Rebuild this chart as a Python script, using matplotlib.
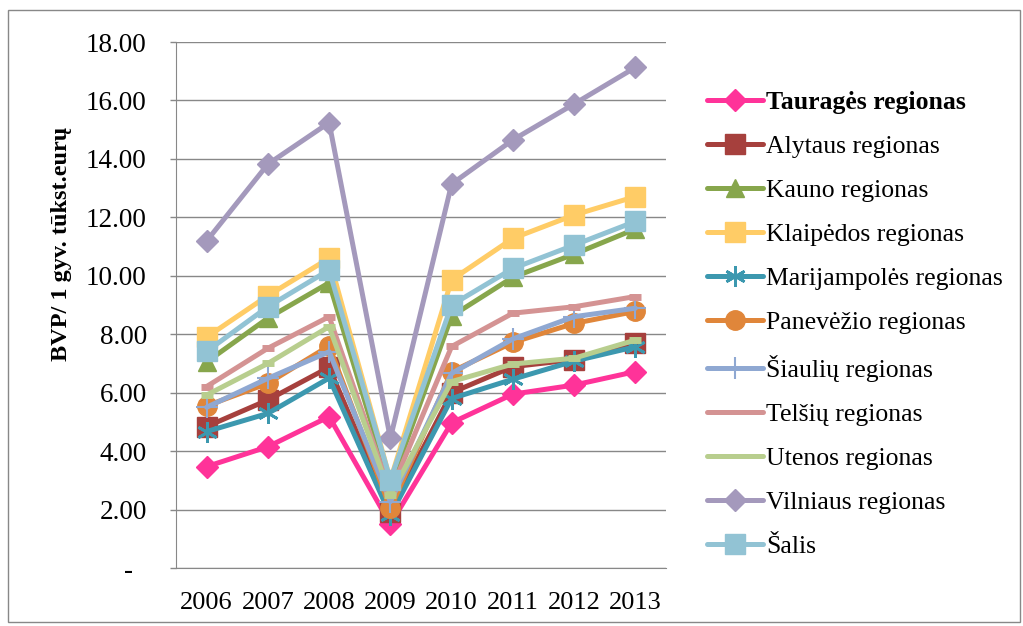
import matplotlib.pyplot as plt
from matplotlib.patches import Rectangle

years = ['2006', '2007', '2008', '2009', '2010', '2011', '2012', '2013']

taurages = [3.47, 4.15, 5.18, 1.50, 4.97, 5.95, 6.26, 6.72]
alytaus = [4.84, 5.75, 6.87, 1.93, 6.00, 6.89, 7.13, 7.69]
kauno = [7.05, 8.55, 9.76, 2.80, 8.62, 9.95, 10.74, 11.60]
klaipedos = [7.90, 9.32, 10.60, 3.00, 9.86, 11.28, 12.08, 12.71]
marijampoles = [4.67, 5.29, 6.50, 1.80, 5.80, 6.46, 7.08, 7.57]
panevezio = [5.55, 6.32, 7.60, 2.04, 6.72, 7.72, 8.37, 8.78]
siauliu = [5.50, 6.49, 7.40, 2.27, 6.66, 7.84, 8.60, 8.89]
telsiu = [6.21, 7.52, 8.60, 2.60, 7.58, 8.72, 8.94, 9.29]
utenos = [5.92, 7.00, 8.26, 2.50, 6.38, 6.98, 7.18, 7.80]
vilniaus = [11.19, 13.82, 15.24, 4.44, 13.14, 14.65, 15.88, 17.13]
salis = [7.41, 8.94, 10.20, 3.01, 9.00, 10.25, 11.05, 11.86]

series = [
    ('Tauragės regionas', taurages, '#FF3399', 'D'),
    ('Alytaus regionas', alytaus, '#A6403D', 's'),
    ('Kauno regionas', kauno, '#87A64C', '^'),
    ('Klaipėdos regionas', klaipedos, '#FFCC66', 's'),
    ('Marijampolės regionas', marijampoles, '#3C98AF', 'ast'),
    ('Panevėžio regionas', panevezio, '#E0863A', 'o'),
    ('Šiaulių regionas', siauliu, '#8FA8D2', '+'),
    ('Telšių regionas', telsiu, '#D49393', '_'),
    ('Utenos regionas', utenos, '#B8CE8E', '_'),
    ('Vilniaus regionas', vilniaus, '#A499BC', 'D'),
    ('Šalis', salis, '#92C3D4', 's'),
]

plt.rcParams['font.family'] = ['Liberation Serif', 'DejaVu Serif']

fig = plt.figure(figsize=(10.23, 6.26), dpi=100)
ax = fig.add_axes([176 / 1023, 1 - 568 / 626, 490 / 1023, 526 / 626])

x = list(range(len(years)))
for name, vals, col, mk in series:
    kw = dict(color=col, lw=3.6, label=name, solid_capstyle='round')
    if mk == 'D':
        kw.update(marker='D', ms=11, mec=col, mfc=col)
    elif mk == 's':
        kw.update(marker='s', ms=14, mec=col, mfc=col)
    elif mk == '^':
        kw.update(marker='^', ms=13, mec=col, mfc=col)
    elif mk == 'o':
        kw.update(marker='o', ms=14, mec=col, mfc=col)
    elif mk == 'ast':
        kw.update(marker=(6, 2, 0), ms=15, mec=col, mew=2)
    elif mk == '+':
        kw.update(marker='+', ms=16, mec=col, mew=1.5)
    elif mk == '_':
        kw.update(marker='_', ms=9, mec=col, mew=5)
    ax.plot(x, vals, **kw)

ax.set_xlim(-0.5, 7.5)
ax.set_ylim(0, 18)
ax.set_xticks(x)
ax.set_xticklabels(years, fontsize=19)
yt = [0, 2, 4, 6, 8, 10, 12, 14, 16, 18]
ax.set_yticks(yt)
ax.set_yticklabels(['-  '] + ['%.2f' % v for v in yt[1:]], fontsize=19.5)
ax.tick_params(axis='x', length=0, pad=17)
ax.tick_params(axis='y', length=4, width=1, color='#888888', pad=17)
ax.grid(axis='y', color='#888888', lw=1)
ax.set_axisbelow(True)
for s in ['top', 'right']:
    ax.spines[s].set_visible(False)
for s in ['left', 'bottom']:
    ax.spines[s].set_color('#888888')
ax.set_ylabel('BVP/ 1 gyv. tūkst.eurų', fontsize=17.5, fontweight='bold')
ax.yaxis.set_label_coords((72 - 176) / 490, (568 - 244) / 526)

leg = fig.legend(loc='upper left', bbox_to_anchor=(694 / 1023, 1 - 78 / 626),
                 frameon=False, fontsize=18.5, handlelength=2.2, handletextpad=0.1,
                 labelspacing=0.82, borderpad=0)
leg.get_texts()[0].set_fontweight('bold')
for h in leg.legend_handles[7:9]:
    h.set_marker('None')

fig.patches.append(Rectangle((8 / 1023, 1 - 622 / 626), 1012 / 1023, 612 / 626,
                             transform=fig.transFigure, fill=False,
                             edgecolor='#888888', lw=1))

fig.savefig('out.png', dpi=100)
